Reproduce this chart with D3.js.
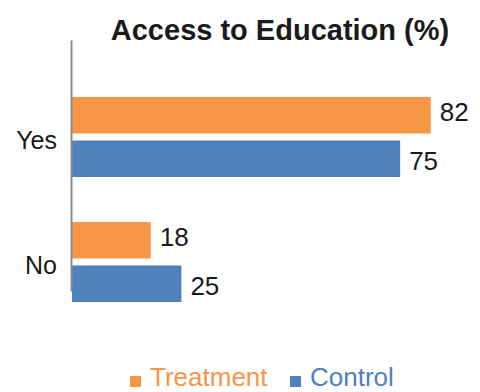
<!DOCTYPE html>
<html>
<head>
<meta charset="utf-8">
<script src="https://cdn.jsdelivr.net/npm/d3@7"></script>
<style>
  html, body { margin: 0; padding: 0; background: #fff; }
  svg { display: block; font-family: "Liberation Sans", Arial, Helvetica, sans-serif; }
</style>
</head>
<body>
<svg id="chart" width="480" height="392"></svg>
<script>
const categories = ["Yes", "No"];
const seriesNames = ["Treatment", "Control"];
const treatmentValues = [82, 18];
const controlValues = [75, 25];
const colors = ["#F79646", "#4F81BD"];
const title = "Access to Education (%)";

const svg = d3.select("#chart");

const x = d3.scaleLinear().domain([0, 100]).range([72, 72 + 437.5]);
const y = d3.scaleBand().domain(categories).range([97, 302]).paddingInner(0.36).paddingOuter(0);
const ySub = d3.scaleBand().domain(seriesNames).range([0, y.bandwidth()]).paddingInner(0.16);

const data = categories.map((c, i) => ({
  category: c,
  values: [
    { series: seriesNames[0], value: treatmentValues[i], color: colors[0] },
    { series: seriesNames[1], value: controlValues[i], color: colors[1] }
  ]
}));

// Title
svg.append("text")
  .attr("x", 280).attr("y", 40)
  .attr("text-anchor", "middle")
  .attr("font-size", 29).attr("font-weight", "bold")
  .attr("fill", "#1a1a1a")
  .text(title);

// Bars
const groups = svg.selectAll("g.cat").data(data).join("g")
  .attr("class", "cat")
  .attr("transform", d => `translate(0,${y(d.category)})`);

groups.selectAll("rect").data(d => d.values).join("rect")
  .attr("x", x(0))
  .attr("y", d => ySub(d.series))
  .attr("width", d => x(d.value) - x(0))
  .attr("height", ySub.bandwidth())
  .attr("fill", d => d.color);

// Value labels
const valFs = 26;
groups.selectAll("text.val").data(d => d.values).join("text")
  .attr("class", "val")
  .attr("x", d => x(d.value) + 9)
  .attr("y", d => ySub(d.series) + ySub.bandwidth() / 2 + (d.series === seriesNames[0] ? -4 : 2) + 0.358 * valFs)
  .attr("font-size", valFs)
  .attr("fill", "#1a1a1a")
  .text(d => d.value);

// Axis line (category axis, no ticks)
const yAxis = d3.axisLeft(d3.scaleLinear().range([40, 291])).ticks(0).tickSize(0).tickFormat("");
const axisG = svg.append("g").attr("transform", "translate(71,0)").call(yAxis);
axisG.select(".domain").attr("stroke", "#8c8c8c").attr("stroke-width", 2);

// Category labels
const catFs = 25;
svg.selectAll("text.cat").data(categories).join("text")
  .attr("class", "cat")
  .attr("x", 57)
  .attr("y", d => y(d) + y.bandwidth() / 2 + 3 + 0.358 * catFs)
  .attr("text-anchor", "end")
  .attr("font-size", catFs)
  .attr("fill", "#1a1a1a")
  .text(d => d);

// Legend
const legFs = 26;
const legend = svg.append("g");
const legItems = [
  { name: seriesNames[0], color: colors[0], x: 130 },
  { name: seriesNames[1], color: colors[1], x: 290 }
];
legItems.forEach(it => {
  legend.append("rect")
    .attr("x", it.x).attr("y", 376)
    .attr("width", 11).attr("height", 11)
    .attr("fill", it.color);
  legend.append("text")
    .attr("x", it.x + 20).attr("y", 386)
    .attr("font-size", legFs)
    .attr("fill", it.color)
    .text(it.name);
});
</script>
</body>
</html>
